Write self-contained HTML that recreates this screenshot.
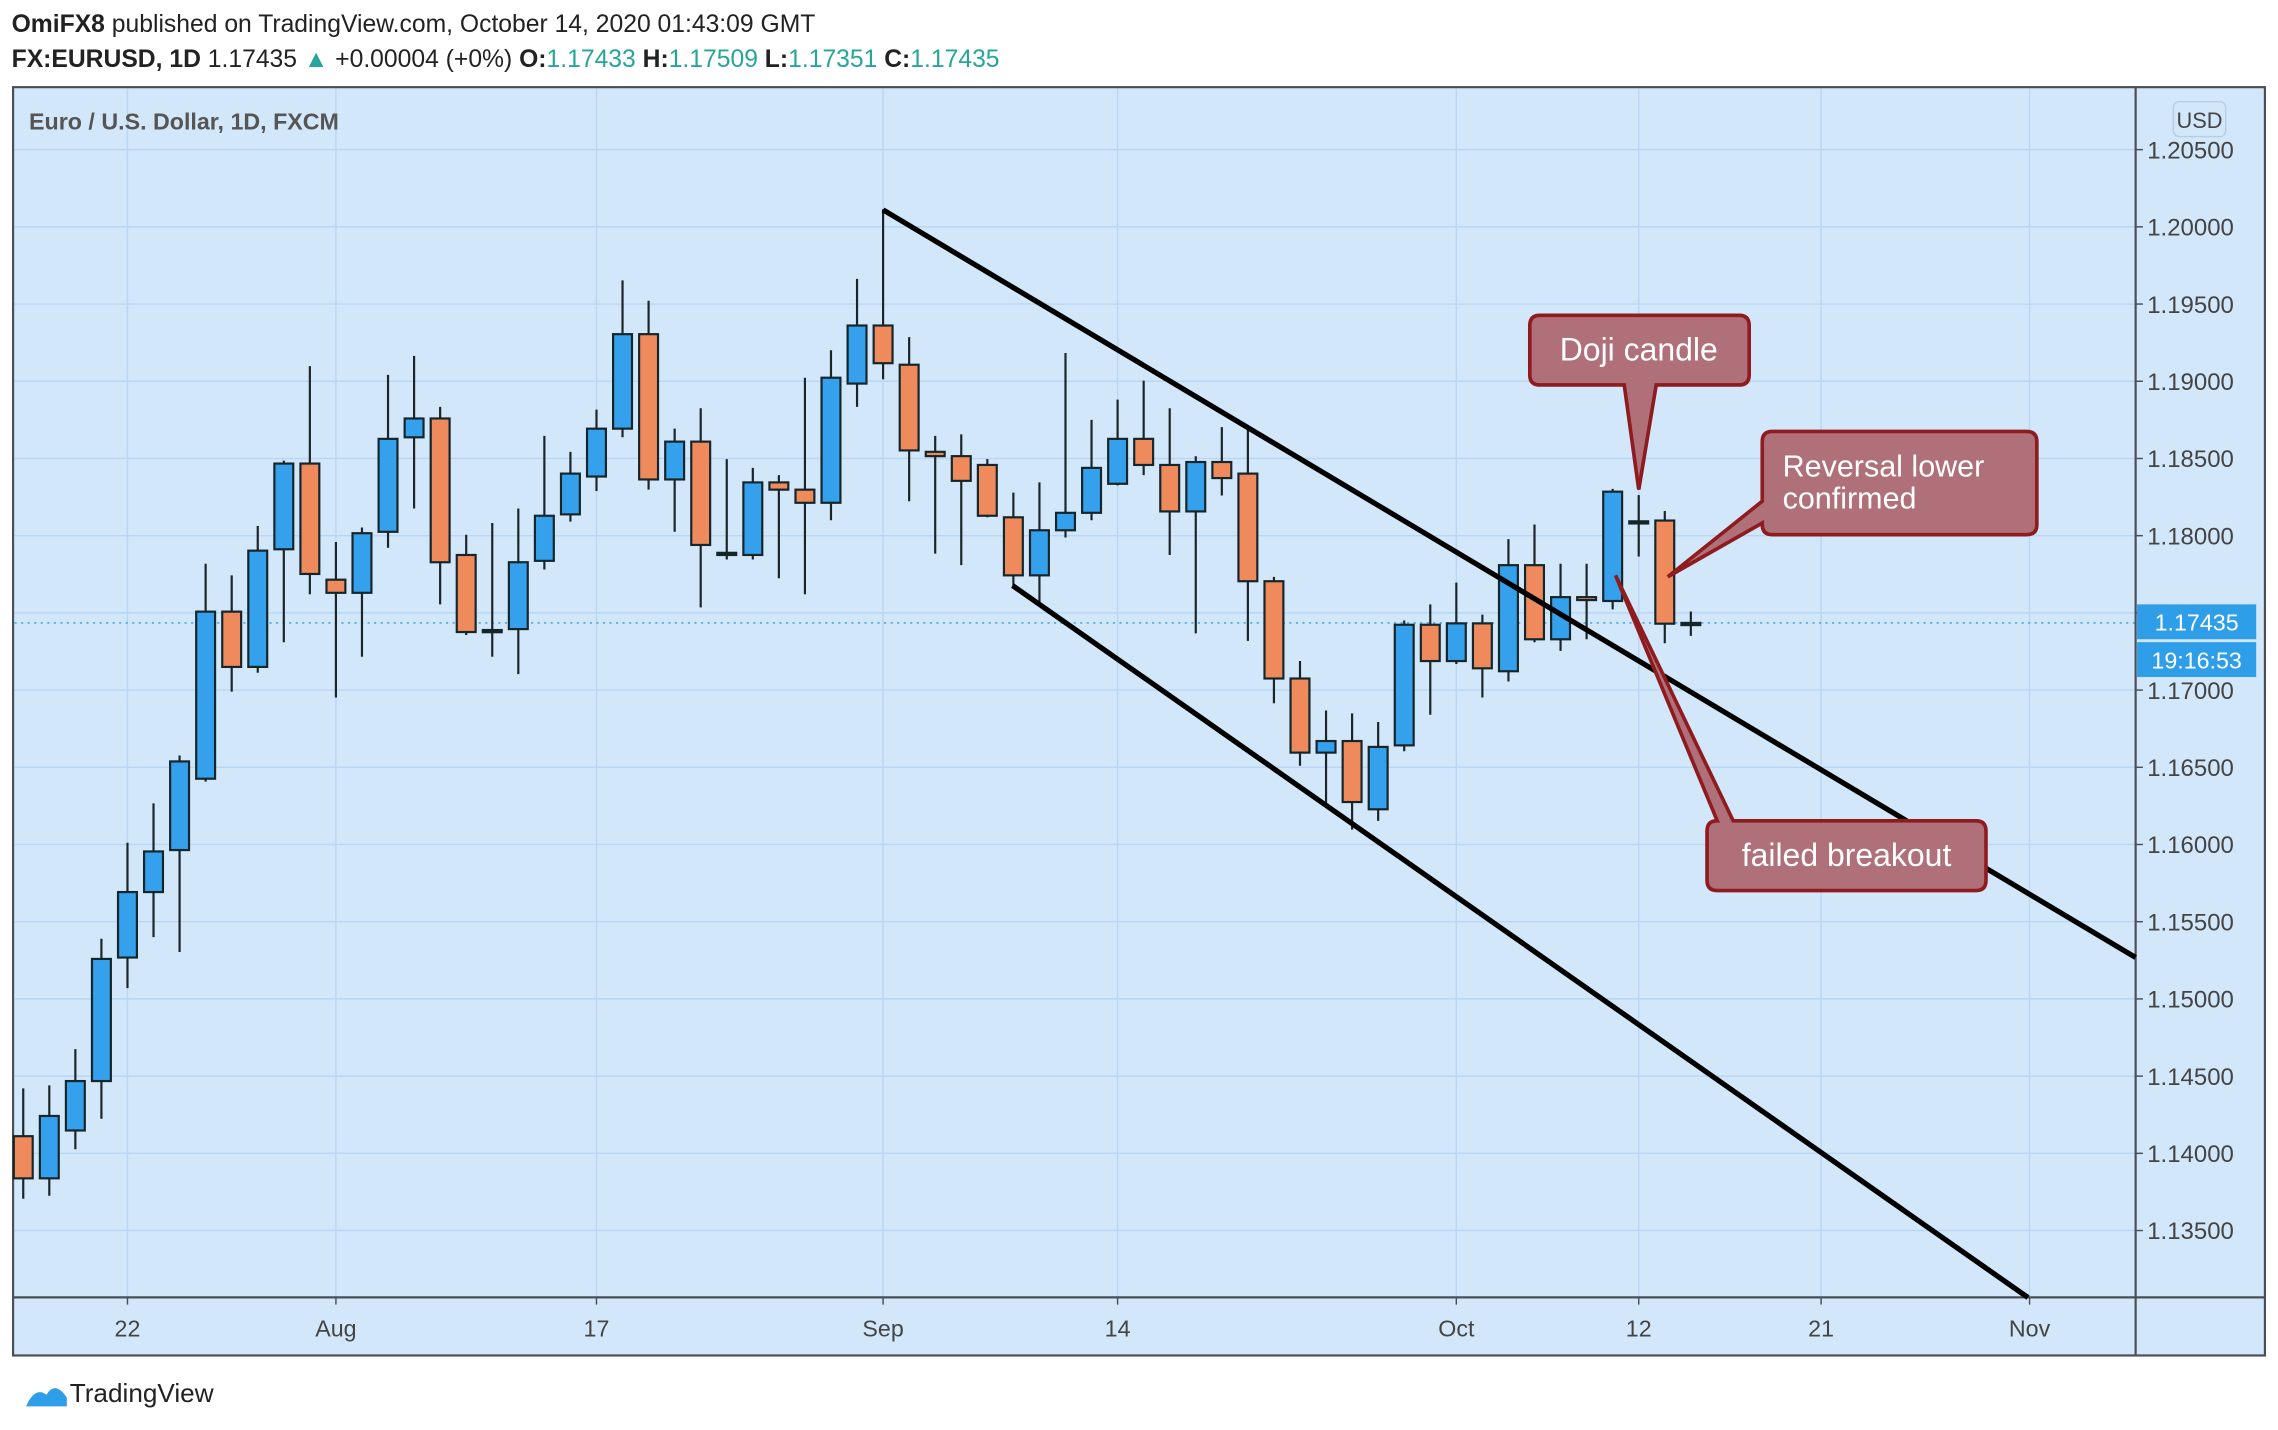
<!DOCTYPE html>
<html><head><meta charset="utf-8"><style>
html,body{margin:0;padding:0;background:#fff;width:2278px;height:1430px;overflow:hidden}
svg{display:block}
text{font-family:"Liberation Sans",sans-serif}
</style></head><body>
<svg id="chart" width="2278" height="1430" viewBox="0 0 1568 984.3" preserveAspectRatio="none" xmlns="http://www.w3.org/2000/svg">
<rect x="0" y="0" width="1568" height="985" fill="#fff"/>
<g id="header">
<text x="8" y="22" font-size="17" fill="#222"><tspan font-weight="bold">OmiFX8</tspan> published on TradingView.com, October 14, 2020 01:43:09 GMT</text>
<text x="8" y="46" font-size="17" fill="#222"><tspan font-weight="bold">FX:EURUSD, 1D</tspan> 1.17435 <tspan fill="#26a69a">▲</tspan> +0.00004 (+0%) <tspan font-weight="bold">O:</tspan><tspan fill="#26a69a">1.17433</tspan> <tspan font-weight="bold">H:</tspan><tspan fill="#26a69a">1.17509</tspan> <tspan font-weight="bold">L:</tspan><tspan fill="#26a69a">1.17351</tspan> <tspan font-weight="bold">C:</tspan><tspan fill="#26a69a">1.17435</tspan></text>
</g>
<rect x="9" y="60" width="1550" height="873" fill="#d3e7fb" stroke="#4a4f55" stroke-width="1.5"/>
<g id="grid"></g>
<line x1="1470" y1="60" x2="1470" y2="933" stroke="#4a4f55" stroke-width="1.5"/>
<line x1="9" y1="893" x2="1559" y2="893" stroke="#4a4f55" stroke-width="1.5"/>
<text x="20" y="89" font-size="16" font-weight="bold" fill="#555">Euro / U.S. Dollar, 1D, FXCM</text>
<g id="yaxis"></g>
<g id="xaxis"></g>
<g id="candles"></g>
<g id="trend"></g>
<g id="notes">
<path d="M1060,217 H1197 Q1204,217 1204,224 V258 Q1204,265 1197,265 H1140 L1128,337 L1118,265 H1060 Q1053,265 1053,258 V224 Q1053,217 1060,217 Z" fill="#b0707a" stroke="#8e1c1f" stroke-width="2.5"/>
<text x="1128" y="248" font-size="22" fill="#fff" text-anchor="middle">Doji candle</text>
<path d="M1220,297 H1395 Q1402,297 1402,304 V361 Q1402,368 1395,368 H1220 Q1213,368 1213,361 V360 L1148,397 L1213,345 V304 Q1213,297 1220,297 Z" fill="#b0707a" stroke="#8e1c1f" stroke-width="2.5"/>
<text x="1227" y="328" font-size="21" fill="#fff">Reversal lower</text>
<text x="1227" y="350" font-size="21" fill="#fff">confirmed</text>
<path d="M1182,565 L1112,396 L1193,565 H1360 Q1367,565 1367,572 V606 Q1367,613 1360,613 H1182 Q1175,613 1175,606 V572 Q1175,565 1182,565 Z" fill="#b0707a" stroke="#8e1c1f" stroke-width="2.5"/>
<text x="1271" y="596" font-size="22" fill="#fff" text-anchor="middle">failed breakout</text>
</g>
<g>
<rect x="1496" y="70" width="36" height="24" rx="4" fill="#d3e7fb" stroke="#b8cde2"/>
<text x="1514" y="88" font-size="15" fill="#444" text-anchor="middle" font-family="DejaVu Sans">USD</text>
<rect x="1471" y="416" width="82" height="24" fill="#2f9ee8"/>
<text x="1512" y="434" font-size="16" fill="#fff" text-anchor="middle" font-family="DejaVu Sans">1.17435</text>
<rect x="1471" y="442" width="82" height="24" fill="#2f9ee8"/>
<text x="1512" y="460" font-size="16" fill="#fff" text-anchor="middle" font-family="DejaVu Sans">19:16:53</text>
</g>
<g>
<path d="M18,968 q6,-14 14,-8 q6,-10 14,2 l0,6 z" fill="#2f9ee8"/>
<text x="48" y="965" font-size="18" fill="#222">TradingView</text>
</g>
</svg>
<script>
const opens=[1.14111,1.13838,1.14148,1.14468,1.15268,1.15692,1.15964,1.16426,1.17508,1.17150,1.17912,1.18467,1.17715,1.17630,1.18025,1.18637,1.18759,1.17875,1.17385,1.17395,1.17837,1.18138,1.18383,1.18693,1.19305,1.18364,1.18609,1.17884,1.17875,1.18345,1.18298,1.18213,1.18985,1.19361,1.19107,1.18543,1.18515,1.18458,1.18119,1.17743,1.18035,1.18148,1.18336,1.18627,1.18458,1.18157,1.18477,1.18402,1.17705,1.17075,1.16595,1.16670,1.16228,1.16642,1.17423,1.17188,1.17432,1.17122,1.17809,1.17329,1.17602,1.17577,1.18093,1.18098,1.17433];
const highs=[1.14421,1.14440,1.14675,1.15390,1.16011,1.16266,1.16576,1.17818,1.17743,1.18063,1.18486,1.19098,1.17959,1.18053,1.19041,1.19164,1.18834,1.18006,1.18082,1.18176,1.18646,1.18543,1.18816,1.19653,1.19521,1.18693,1.18825,1.18496,1.18439,1.18392,1.19023,1.19201,1.19663,1.20114,1.19286,1.18646,1.18656,1.18496,1.18279,1.18345,1.19183,1.18750,1.18881,1.19004,1.18825,1.18514,1.18703,1.18684,1.17733,1.17188,1.16868,1.16849,1.16793,1.17451,1.17555,1.17696,1.17489,1.17978,1.18072,1.17818,1.17818,1.18303,1.18263,1.18160,1.17509];
const lows=[1.13706,1.13725,1.14026,1.14224,1.15070,1.15400,1.15304,1.16407,1.16990,1.17112,1.17310,1.17621,1.16952,1.17216,1.17922,1.18176,1.17555,1.17357,1.17216,1.17103,1.17781,1.18091,1.18289,1.18637,1.18298,1.18025,1.17536,1.17846,1.17846,1.17724,1.17621,1.18100,1.18834,1.19013,1.18223,1.17884,1.17809,1.18119,1.17658,1.17564,1.17988,1.18100,1.18326,1.18392,1.17875,1.17367,1.18260,1.17319,1.16915,1.16510,1.16265,1.16096,1.16153,1.16604,1.16840,1.17169,1.16952,1.17056,1.17310,1.17254,1.17329,1.17523,1.17865,1.17303,1.17351];
const closes=[1.13838,1.14242,1.14468,1.15259,1.15692,1.15955,1.16538,1.17508,1.17150,1.17903,1.18467,1.17752,1.17630,1.18016,1.18627,1.18759,1.17828,1.17376,1.17389,1.17828,1.18129,1.18402,1.18693,1.19305,1.18364,1.18609,1.17940,1.17889,1.18345,1.18298,1.18213,1.19023,1.19361,1.19117,1.18552,1.18515,1.18355,1.18129,1.17743,1.18035,1.18148,1.18439,1.18627,1.18458,1.18157,1.18477,1.18373,1.17705,1.17075,1.16595,1.16670,1.16275,1.16632,1.17423,1.17188,1.17432,1.17141,1.17809,1.17329,1.17602,1.17583,1.18285,1.18090,1.17430,1.17435];
const priceTicks=[1.205,1.200,1.195,1.190,1.185,1.180,1.175,1.170,1.165,1.160,1.155,1.150,1.145,1.140,1.135];
const dateLabels=["22","Aug","17","Sep","14","Oct","12","21","Nov"];
const dateIndex=[4,12,22,33,42,55,62,69,77];
const upperLine=[[33,1.2011],[81.07,1.15268]];
const lowerLine=[[37.97,1.17677],[76.94,1.13066]];
const lastPrice=1.17435;

const NS="http://www.w3.org/2000/svg";
function X(i){return 16+i*17.935;}
function Y(p){return 103+(1.205-p)/0.005*53.143;}
function mk(tag,attrs,parent){const e=document.createElementNS(NS,tag);for(const k in attrs)e.setAttribute(k,attrs[k]);parent.appendChild(e);return e;}
const grid=document.getElementById('grid'),ya=document.getElementById('yaxis'),xa=document.getElementById('xaxis'),cg=document.getElementById('candles'),tg=document.getElementById('trend');
priceTicks.forEach(p=>{
  const y=Y(p);
  const l=mk('line',{x1:10,x2:1470,y1:y,y2:y,stroke:'#b9d7f3','stroke-width':1},grid);
  
  
  mk('line',{x1:1470,x2:1475,y1:y,y2:y,stroke:'#4a4f55','stroke-width':1},ya);
  const t=mk('text',{x:1478,y:y+6,'font-size':16.5,fill:'#444','font-family':'DejaVu Sans'},ya);
  t.textContent=p.toFixed(5);
  
  
});
dateIndex.forEach((idx,k)=>{
  const x=X(idx);
  const l=mk('line',{x1:x,x2:x,y1:61,y2:893,stroke:'#b9d7f3','stroke-width':1},grid);
  
  
  mk('line',{x1:x,x2:x,y1:893,y2:898,stroke:'#4a4f55','stroke-width':1},xa);
  const t=mk('text',{x:x,y:920,'font-size':16,fill:'#444','text-anchor':'middle','font-family':'DejaVu Sans'},xa);
  t.textContent=dateLabels[k];
  
  
});
const ly=Y(lastPrice);
const dl=mk('line',{x1:10,x2:1470,y1:ly,y2:ly,stroke:'#2f9ee8','stroke-width':1,'stroke-dasharray':'1.5 3'},grid);


for(let i=0;i<opens.length;i++){
  const x=X(i),o=opens[i],c=closes[i];
  const g=mk('g',{},cg);
  
  
  mk('line',{x1:x,x2:x,y1:Y(highs[i]),y2:Y(lows[i]),stroke:'#1b2428','stroke-width':1.5},g);
  const top=Y(Math.max(o,c)),bot=Y(Math.min(o,c));
  const h=Math.max(bot-top,1.5);
  mk('rect',{x:x-6.5,y:top,width:13,height:h,fill:c>=o?'#35a0eb':'#ef8a5c',stroke:'#15262b','stroke-width':1.5},g);
}
[upperLine,lowerLine].forEach((ln,k)=>{
  const l=mk('line',{x1:X(ln[0][0]),y1:Y(ln[0][1]),x2:X(ln[1][0]),y2:Y(ln[1][1]),stroke:'#000','stroke-width':3.6},tg);
  
  
});
</script>
</body></html>
